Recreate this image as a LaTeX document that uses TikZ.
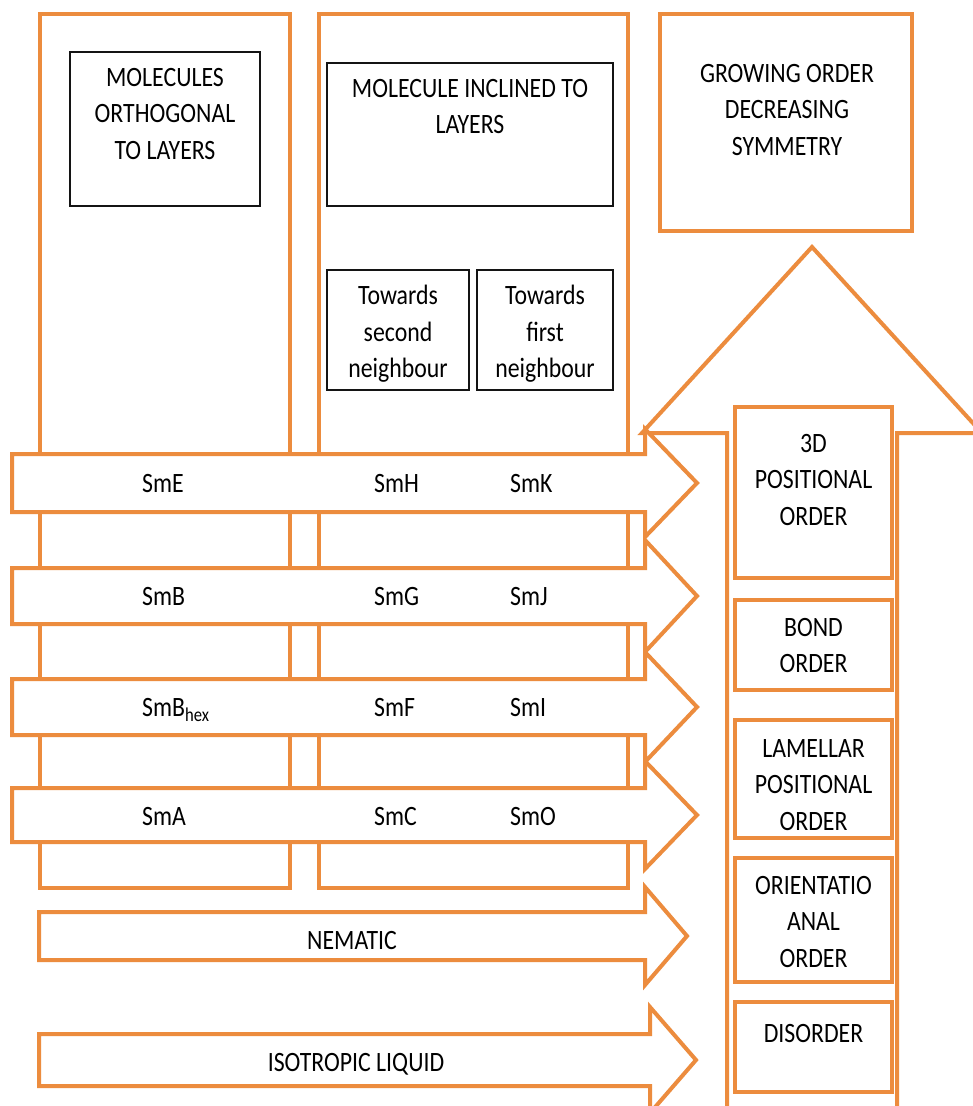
\documentclass[tikz,border=0pt]{standalone}
\usepackage{fontspec}
\setmainfont{Carlito}[FakeStretch=0.85]
\definecolor{org}{RGB}{236,140,62}
\definecolor{ink}{RGB}{20,20,20}
\tikzset{
  obox/.style={draw=org, line width=4pt, fill=white, rectangle, inner sep=0pt},
  bbox/.style={draw=ink, line width=1.8pt, fill=white, rectangle, inner sep=0pt},
  oarrow/.style={draw=org, line width=4pt, fill=white, line join=miter},
  txt/.style={font=\fontsize{28}{36.5}\selectfont, text=black, align=center, inner sep=0pt, anchor=north},
  lbl/.style={font=\fontsize{28}{36.5}\selectfont, text=black, inner sep=0pt, anchor=base west},
  clbl/.style={font=\fontsize{28}{36.5}\selectfont, text=black, inner sep=0pt, anchor=base},
}
% horizontal block arrow: left x, head-back x, tip x, centre y, half shaft, half head
\newcommand\hBlockArrow[6]{%
  \draw[oarrow] (#1,#4-#5) -- (#2,#4-#5) -- (#2,#4-#6) -- (#3,#4) -- (#2,#4+#6) -- (#2,#4+#5) -- (#1,#4+#5) -- cycle;}
\begin{document}
\begin{tikzpicture}[x=1pt,y=-1pt]
\useasboundingbox (0,0) rectangle (973,1106);
\fill[white] (0,0) rectangle (973,1106);
\clip (0,0) rectangle (973,1106);

% columns
\node[obox, minimum width=250, minimum height=874] (col1) at (165,451) {};
\node[obox, minimum width=309, minimum height=874] (col2) at (473.5,451) {};

% black boxes
\node[bbox, minimum width=190, minimum height=154] (orth) at (165,129) {};
\node[bbox, minimum width=286, minimum height=143] (incl) at (470,134.5) {};
\node[bbox, minimum width=142, minimum height=120] (tsec) at (398,330) {};
\node[bbox, minimum width=136, minimum height=120] (tfir) at (545,330) {};

% growing order box
\node[obox, minimum width=252, minimum height=217] (grow) at (786,122.5) {};

% big upward arrow
\coordinate (bigtip) at (812,247);
\draw[oarrow] (727,1130) -- (727,433) -- (642,433) -- (bigtip) -- (982,433) -- (897,433) -- (897,1130);

% horizontal arrows
\hBlockArrow{12}{645}{697}{483}{29}{54}
\hBlockArrow{12}{645}{697}{596}{28}{56}
\hBlockArrow{12}{645}{697}{707}{28}{55}
\hBlockArrow{12}{645}{697}{815}{27}{54}
\hBlockArrow{39}{645}{687}{936}{24}{49}
\hBlockArrow{39}{650}{696}{1060}{26}{53}

% right boxes
\node[obox, minimum width=157, minimum height=171] (pos3d) at (813.5,492.5) {};
\node[obox, minimum width=157, minimum height=90] (bond) at (813.5,645) {};
\node[obox, minimum width=157, minimum height=118] (lam) at (813.5,779) {};
\node[obox, minimum width=157, minimum height=124] (ori) at (813.5,920) {};
\node[obox, minimum width=157, minimum height=90] (dis) at (813.5,1047) {};

% texts in boxes
\node[txt] (torth) at (165,68) {MOLECULES\\ORTHOGONAL\\TO LAYERS};
\node[txt] (tincl) at (470,79) {MOLECULE INCLINED TO\\LAYERS};
\node[txt] (ttsec) at (398,285) {Towards\\second\\neighbour};
\node[txt] (ttfir) at (545,285) {Towards\\first\\neighbour};
\node[txt] (tgrow) at (787,64) {GROWING ORDER\\DECREASING\\SYMMETRY};
\node[txt] (tpos3d) at (813.5,434) {3D\\POSITIONAL\\ORDER};
\node[txt] (tbond) at (813.5,618) {BOND\\ORDER};
\node[txt] (tlam) at (813.5,739) {LAMELLAR\\POSITIONAL\\ORDER};
\node[txt] (tori) at (813.5,876) {ORIENTATIO\\ANAL\\ORDER};
\node[txt] (tdis) at (813.5,1024) {DISORDER};

% arrow labels
\node[lbl] (sme) at (142,492) {SmE};
\node[lbl] (smh) at (374,492) {SmH};
\node[lbl] (smk) at (510,492) {SmK};
\node[lbl] (smb) at (142,605) {SmB};
\node[lbl] (smg) at (374,605) {SmG};
\node[lbl] (smj) at (510,605) {SmJ};
\node[lbl] (smbh) at (142,716) {SmB\textsubscript{hex}};
\node[lbl] (smf) at (374,716) {SmF};
\node[lbl] (smi) at (510,716) {SmI};
\node[lbl] (sma) at (142,825) {SmA};
\node[lbl] (smc) at (374,825) {SmC};
\node[lbl] (smo) at (510,825) {SmO};
\node[clbl] (nem) at (352,949) {NEMATIC};
\node[clbl] (iso) at (356,1071) {ISOTROPIC LIQUID};
\end{tikzpicture}
\end{document}
